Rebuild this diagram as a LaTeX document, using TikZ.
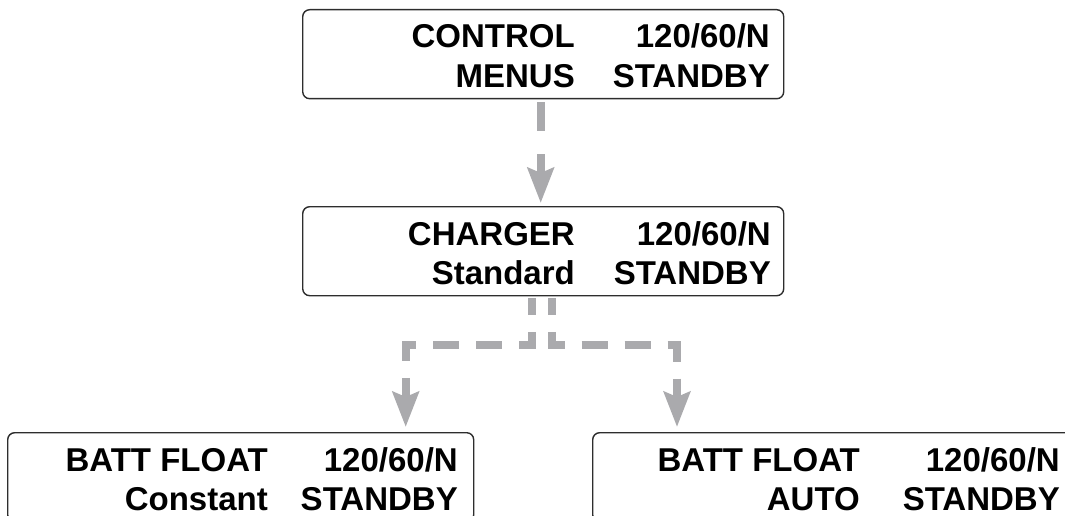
\documentclass[tikz,border=0pt]{standalone}
\usepackage{fontspec}
\setmainfont{Liberation Sans}
\usetikzlibrary{arrows.meta}
\definecolor{flowgray}{RGB}{170,170,173}
\definecolor{rimgray}{RGB}{45,45,45}

\begin{document}
\begin{tikzpicture}[x=1pt,y=1pt,
  screen/.style={draw=rimgray, line width=1.4pt, rounded corners=7pt, minimum width=481pt, minimum height=89pt, inner sep=0pt, anchor=north west},
  lcd/.style={font=\fontsize{33}{40}\selectfont\bfseries, anchor=base east, inner sep=0pt},
  flow/.style={draw=flowgray, line width=8pt, -{Stealth[length=35pt, width=26pt, inset=5pt]}}]
\useasboundingbox (0,0) rectangle (1065,-516);
\clip (0,0) rectangle (1065,-516);
% screens
\node[screen] (menus) at (302,-9) {};
\node[lcd] (menus-a) at (575,-48) {CONTROL};
\node[lcd] (menus-b) at (575,-87.5) {MENUS};
\node[lcd] (menus-c) at (770,-48) {120/60/N};
\node[lcd] (menus-d) at (770,-87.5) {STANDBY};
\node[screen] (charger) at (302,-206) {};
\node[lcd] (charger-a) at (575,-245) {CHARGER};
\node[lcd] (charger-b) at (575,-284) {Standard};
\node[lcd] (charger-c) at (771,-245) {120/60/N};
\node[lcd] (charger-d) at (771,-284) {STANDBY};
\node[screen, minimum width=466pt] (floatc) at (7,-432) {};
\node[lcd] (floatc-a) at (268,-471) {BATT FLOAT};
\node[lcd] (floatc-b) at (268,-510) {Constant};
\node[lcd] (floatc-c) at (458,-471) {120/60/N};
\node[lcd] (floatc-d) at (458,-510) {STANDBY};
\node[screen] (floata) at (592,-432) {};
\node[lcd] (floata-a) at (860,-471) {BATT FLOAT};
\node[lcd] (floata-b) at (860,-510) {AUTO};
\node[lcd] (floata-c) at (1060,-471) {120/60/N};
\node[lcd] (floata-d) at (1060,-510) {STANDBY};
% arrows
\draw[flow, dash pattern=on 29pt off 23pt] ([xshift=-2.5pt,yshift=-3pt]menus.south) -- ([xshift=-2.5pt,yshift=3pt]charger.north);
\draw[flow, dash pattern=on 26pt off 17pt, dash phase=9.5pt] ([xshift=-11.5pt,yshift=-2pt]charger.south) -- ++(0,-46.5) -| ([xshift=165pt,yshift=5pt]floatc.north);
\draw[flow, dash pattern=on 26pt off 17pt, dash phase=9.5pt] ([xshift=8.5pt,yshift=-2pt]charger.south) -- ++(0,-46.5) -| ([xshift=85pt,yshift=5pt]floata.north west);
\end{tikzpicture}
\end{document}
